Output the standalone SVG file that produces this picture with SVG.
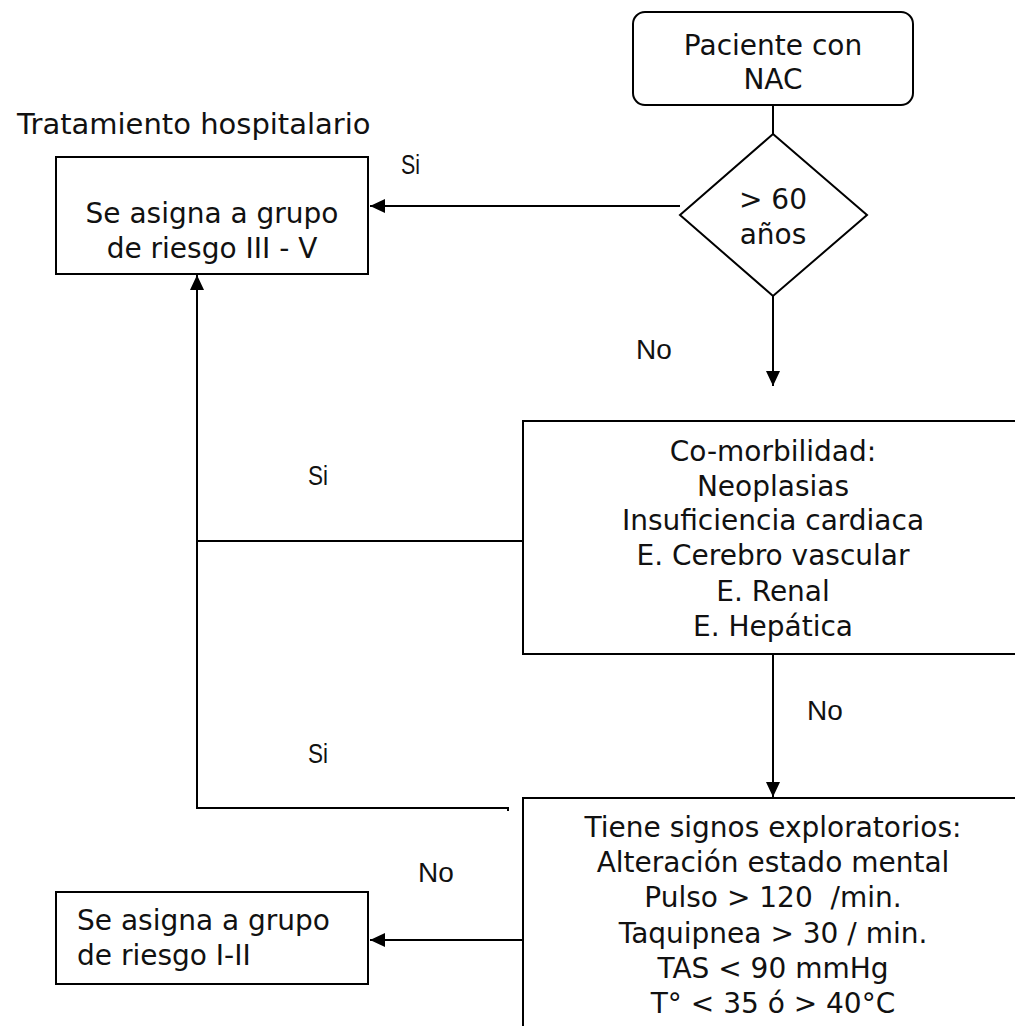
<svg xmlns="http://www.w3.org/2000/svg" width="1015" height="1026" viewBox="0 0 1015 1026">
<style>
.box{fill:#fff;stroke:#000;stroke-width:2}
.t{font-family:"DejaVu Sans",sans-serif;font-size:28px;fill:#111;text-anchor:middle}
.tl{font-family:"DejaVu Sans",sans-serif;font-size:28px;fill:#111}
.lab{font-family:"Liberation Sans",Arial,sans-serif;font-size:28px;fill:#111}
.c{fill:none;stroke:#000;stroke-width:2}
</style>
<defs>
<marker id="ah" markerUnits="userSpaceOnUse" markerWidth="16" markerHeight="14" refX="15" refY="7" orient="auto">
<path d="M0,0 L15,7 L0,14 Z" fill="#000"/>
</marker>
</defs>
<g id="connectors">
<line class="c" x1="773" y1="105" x2="773" y2="134"/>
<line class="c" x1="680" y1="206" x2="370" y2="206" marker-end="url(#ah)"/>
<line class="c" x1="773" y1="296" x2="773" y2="386" marker-end="url(#ah)"/>
<line class="c" x1="523" y1="541" x2="197" y2="541"/>
<polyline class="c" points="508,811 508,808 197,808 197,275" marker-end="url(#ah)"/>
<line class="c" x1="773" y1="654" x2="773" y2="797" marker-end="url(#ah)"/>
<line class="c" x1="523" y1="940" x2="370" y2="940" marker-end="url(#ah)"/>
</g>
<text class="tl" x="17" y="134" style="font-size:29px">Tratamiento hospitalario</text>
<g id="start">
<rect class="box" x="633" y="12" width="280" height="93" rx="12"/>
<text class="t" x="773" y="55">Paciente con</text>
<text class="t" x="773" y="89">NAC</text>
</g>
<g id="age">
<polygon class="box" points="773,134 867,215 773,296 680,215"/>
<text class="t" x="773" y="209">&gt; 60</text>
<text class="t" x="773" y="244">años</text>
</g>
<g id="hosp">
<rect class="box" x="56" y="157" width="312" height="117"/>
<text class="t" x="212" y="223">Se asigna a grupo</text>
<text class="t" x="212" y="258">de riesgo III - V</text>
</g>
<g id="comorb">
<rect class="box" x="523" y="421" width="500" height="233"/>
<text class="t" x="773" y="461">Co-morbilidad:</text>
<text class="t" x="773" y="496">Neoplasias</text>
<text class="t" x="773" y="530">Insuficiencia cardiaca</text>
<text class="t" x="773" y="565">E. Cerebro vascular</text>
<text class="t" x="773" y="601">E. Renal</text>
<text class="t" x="773" y="636">E. Hepática</text>
</g>
<g id="signs">
<rect class="box" x="523" y="798" width="500" height="240"/>
<text class="t" x="773" y="837">Tiene signos exploratorios:</text>
<text class="t" x="773" y="872">Alteración estado mental</text>
<text class="t" x="773" y="907">Pulso &gt; 120&#160; /min.</text>
<text class="t" x="773" y="943">Taquipnea &gt; 30 / min.</text>
<text class="t" x="773" y="978">TAS &lt; 90 mmHg</text>
<text class="t" x="773" y="1013">T° &lt; 35 ó &gt; 40°C</text>
</g>
<g id="low">
<rect class="box" x="56" y="892" width="312" height="92"/>
<text class="tl" x="77" y="930">Se asigna a grupo</text>
<text class="tl" x="77" y="965">de riesgo I-II</text>
</g>
<g id="labels">
<text class="lab" x="401" y="174" textLength="19" lengthAdjust="spacingAndGlyphs">Si</text>
<text class="lab" x="636" y="359">No</text>
<text class="lab" x="308" y="485" textLength="20" lengthAdjust="spacingAndGlyphs">Si</text>
<text class="lab" x="807" y="720">No</text>
<text class="lab" x="308" y="763" textLength="20" lengthAdjust="spacingAndGlyphs">Si</text>
<text class="lab" x="418" y="882">No</text>
</g>
</svg>
